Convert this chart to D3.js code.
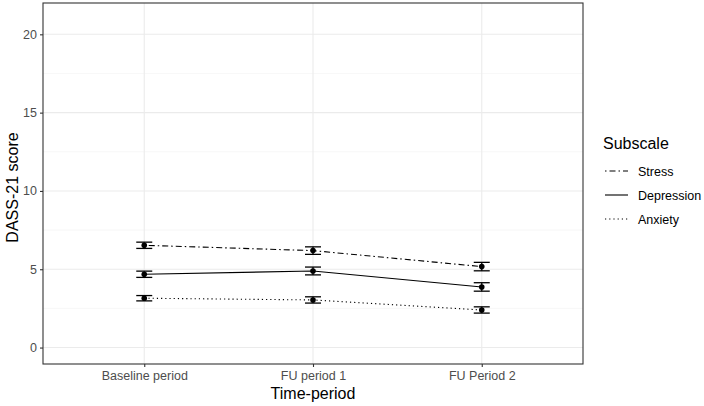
<!DOCTYPE html>
<html><head><meta charset="utf-8">
<script src="https://cdn.jsdelivr.net/npm/d3@7"></script>
<style>body{margin:0;background:#fff}svg{display:block;font-family:"Liberation Sans",Arial,sans-serif}</style>
</head><body><svg id="c" width="704" height="406"></svg>
<script>
const periods = ["Baseline period", "FU period 1", "FU Period 2"];
const subscales = ["Stress", "Depression", "Anxiety"];
const stressMean = [6.53, 6.19, 5.17];
const depressionMean = [4.68, 4.89, 3.87];
const anxietyMean = [3.15, 3.04, 2.40];
const stressCI = [0.2, 0.24, 0.27];
const depressionCI = [0.2, 0.25, 0.27];
const anxietyCI = [0.17, 0.2, 0.2];
const yTicks = [0, 5, 10, 15, 20];
const yMinor = [2.5, 7.5, 12.5, 17.5];
const dashes = {Stress: "1.5 3 6 3", Depression: null, Anxiety: "1.2 3"};

const series = [
  {name: "Stress", mean: stressMean, ci: stressCI},
  {name: "Depression", mean: depressionMean, ci: depressionCI},
  {name: "Anxiety", mean: anxietyMean, ci: anxietyCI}
];

const svg = d3.select("#c");
const L = 43, R = 583, T = 3, B = 364;
const x = d3.scalePoint().domain(periods).range([L, R]).padding(0.6);
const y = d3.scaleLinear().domain([-1.05, 22.0]).range([B, T]);

// grid
const g = svg.append("g");
g.selectAll(".ymin").data(yMinor).join("line")
  .attr("x1", L).attr("x2", R).attr("y1", d => y(d)).attr("y2", d => y(d))
  .attr("stroke", "#f2f2f2").attr("stroke-width", 0.6);
g.selectAll(".ymaj").data(yTicks).join("line")
  .attr("x1", L).attr("x2", R).attr("y1", d => y(d)).attr("y2", d => y(d))
  .attr("stroke", "#ebebeb").attr("stroke-width", 1.1);
g.selectAll(".xmaj").data(periods).join("line")
  .attr("x1", d => x(d)).attr("x2", d => x(d)).attr("y1", T).attr("y2", B)
  .attr("stroke", "#ebebeb").attr("stroke-width", 1.1);

// lines
const line = d3.line().x((d, i) => x(periods[i])).y(d => y(d));
series.forEach(s => {
  svg.append("path").attr("d", line(s.mean)).attr("fill", "none")
    .attr("stroke", "#000").attr("stroke-width", 1.1)
    .attr("stroke-dasharray", dashes[s.name]);
  const eb = svg.append("g");
  s.mean.forEach((m, i) => {
    const cx = x(periods[i]);
    const lo = y(m - s.ci[i]), hi = y(m + s.ci[i]);
    eb.append("line").attr("x1", cx).attr("x2", cx).attr("y1", lo).attr("y2", hi).attr("stroke", "#000").attr("stroke-width", 1.3);
    eb.append("line").attr("x1", cx - 8).attr("x2", cx + 8).attr("y1", lo).attr("y2", lo).attr("stroke", "#000").attr("stroke-width", 1.3);
    eb.append("line").attr("x1", cx - 8).attr("x2", cx + 8).attr("y1", hi).attr("y2", hi).attr("stroke", "#000").attr("stroke-width", 1.3);
    eb.append("circle").attr("cx", cx).attr("cy", y(m)).attr("r", 2.8).attr("fill", "#000");
  });
});

// border
svg.append("rect").attr("x", L).attr("y", T).attr("width", R - L).attr("height", B - T)
  .attr("fill", "none").attr("stroke", "#333").attr("stroke-width", 1.1);

// axes
const ya = svg.append("g").attr("transform", `translate(${L},0)`)
  .call(d3.axisLeft(y).tickValues(yTicks).tickSize(3).tickPadding(3));
const xa = svg.append("g").attr("transform", `translate(0,${B})`)
  .call(d3.axisBottom(x).tickSize(3).tickPadding(4));
[ya, xa].forEach(a => {
  a.select(".domain").remove();
  a.selectAll(".tick line").attr("stroke", "#333").attr("stroke-width", 1.1);
  a.selectAll(".tick text").attr("fill", "#4d4d4d").attr("font-size", 12.5);
});

svg.append("text").attr("x", x(periods[1])).attr("y", 399).attr("text-anchor", "middle")
  .attr("font-size", 16).attr("fill", "#000").text("Time-period");
svg.append("text").attr("transform", `translate(18,${(T + B) / 2 + 4}) rotate(-90)`)
  .attr("text-anchor", "middle").attr("font-size", 16).attr("fill", "#000").text("DASS-21 score");

// legend
const lg = svg.append("g");
lg.append("text").attr("x", 603).attr("y", 149).attr("font-size", 16).attr("fill", "#000").text("Subscale");
subscales.forEach((s, i) => {
  const yy = 171 + i * 24;
  lg.append("line").attr("x1", 605).attr("x2", 628).attr("y1", yy).attr("y2", yy)
    .attr("stroke", "#000").attr("stroke-width", 1.1).attr("stroke-dasharray", dashes[s]);
  lg.append("text").attr("x", 638).attr("y", yy + 4.5).attr("font-size", 12.5).attr("fill", "#000").text(s);
});
</script></body></html>
